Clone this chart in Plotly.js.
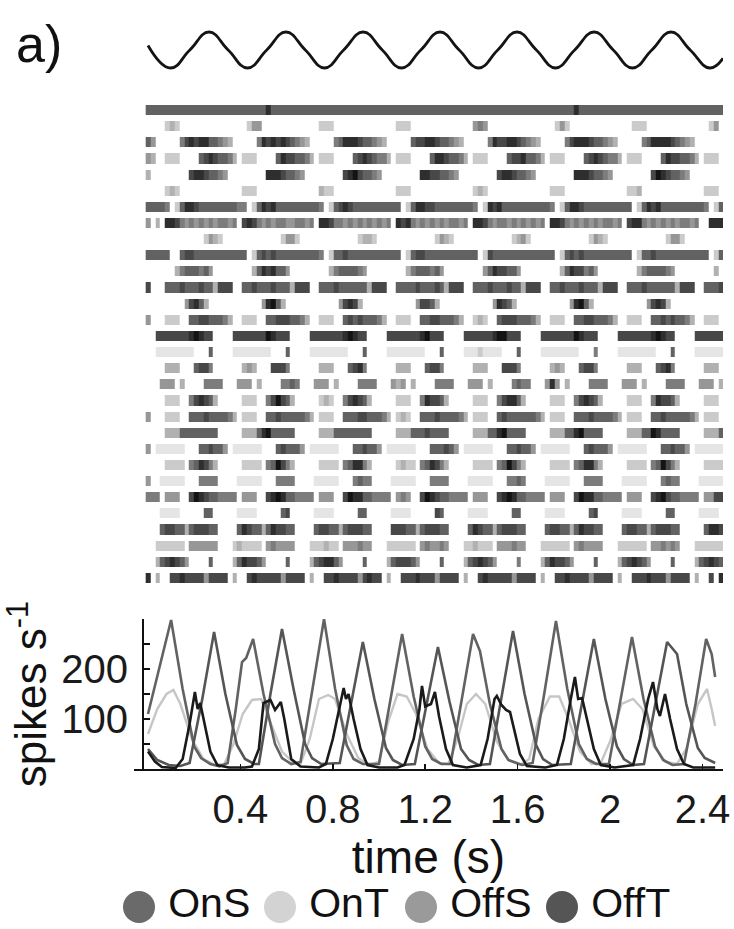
<!DOCTYPE html>
<html>
<head>
<meta charset="utf-8">
<script src="https://cdn.plot.ly/plotly-3.0.1.min.js"></script>
<style>
  html, body { margin: 0; padding: 0; background: #ffffff; }
  #chart { width: 734px; height: 929px; }
</style>
</head>
<body>
<div id="chart"></div>
<script>
// ---------------- DATA ----------------

// Stimulus sine: extrema and zero crossings
const stimT = [0, 0.097, 0.181, 0.264, 0.347, 0.431, 0.514, 0.597, 0.681, 0.764, 0.847, 0.931,
  1.014, 1.097, 1.181, 1.264, 1.347, 1.431, 1.514, 1.597, 1.681, 1.764, 1.847, 1.931,
  2.014, 2.097, 2.181, 2.264, 2.347, 2.431, 2.489];
const stimV = [0.25, -1, 0, 1, 0, -1, 0, 1, 0, -1, 0, 1,
  0, -1, 0, 1, 0, -1, 0, 1, 0, -1, 0, 1,
  0, -1, 0, 1, 0, -1, -0.46];

// Raster: 30 cells, each row = spike-density per time bin (1/48 s), '.' = empty, 1..9 = grey level
const rasterBin = 1 / 48;
const rasterStart = -0.01;
const rasterRows = [
  ["6666666666666666","6666666668666666","6666666666666666","6666666666666666","6666666666666666","6666666668666666","6666666666666666","66666666"],
  ["....232.........",".....244........","....222.........","....222.........","....454.........",".....242........",".....222........",".....24."],
  ["64.....578788665","43.....587878765","43.....568887665","43.....677887665","43.....587788765","43.....578887665","43.....568888765","43......"],
  ["43..222....67876","653.222....68776","653.222....67876","553.222....68876","653.222....67786","653.222....67876","553.222....68776","653.222."],
  ["3........7887665","4........8887665","4........7897665","4........8877665","4........7887665","4........8887665","4........7987665","4......."],
  ["....232.........","....222.........","....322.........","....222.........","....232.........","....222.........","....223.........","....222."],
  ["66665.2688766666","66655.2687866666","66665.2678766666","66666.2688776666","66665.2878666666","66665.2688766666","66666.2687866666","66665.26"],
  ["4.3.887545454545","545.787545455445","545.887554545454","545.878545454545","545.887545545454","545.887545454545","545.788545454545","545..888"],
  ["............2432","............2442","............2332","............2432","............2342","............2432","............2442","........"],
  ["66666..677666666","66666.2676766666","66665.2667666666","66666.2677666666","66666.2766666666","66666.2676766666","66666.2667666666","66666.26"],
  ["......35666564..","......36878664..","......35666654..","......35666564..","......46877664..","......36877564..","......35666654..","......3."],
  ["7...666766676637","77..667666766637","77..666766666637","77..666676667637","77..666766676637","77..667666766637","77..666766666637","77..6667"],
  ["........47863...","........48963...","........47873...","........47763...","........48763...","........48963...","........47873...","........"],
  ["4...222..6677666","53..222..6677766","53..222..6767666","53..222..6677666","53..232..6777666","53..222..6677666","53..222..6676766","53..222."],
  ["..777777789877..","..777777798777..","..777777789877..","..777777789777..","..777777899777..","..777777798777..","..777777789877..","..777777"],
  ["..11111111...6..","..11111111...6..","..11111111...6..","..11111111...6..","..11121111...6..","..11111111...5..","..11111111...6..","..111111"],
  ["....333...6775..","....343...7775..","....333...6785..","....333...6775..","....333...7775..","....343...6775..","....333...6785..","....333."],
  ["...444.3....5555","...444.3....5565","...444.3....5555","...434.3....5555","...444.3....5655","...484.3....5555","...444.3....5555","...444.3"],
  ["....222..578763.","....222..579763.","....232..578763.","....222..587763.","....222..578863.","....222..578763.","....222..587763.","....222."],
  ["4...222..6667666","653.222..6676666","653.222..6667766","653.232..6667666","653.222..6766666","653.222..6667666","653.222..6676666","653.222."],
  ["....33366666666.","....33368966666.","....33366666666.","....33366676666.","....33366896666.","....33366896666.","....33366986666.","....3336"],
  ["4.111111...66766","4.111111...67666","4.111111...66766","4.111111...66676","4.111111...66766","4.111111...67666","4.111111...66766","4.111111"],
  ["....2222.568753.","....2222.569753.","....2222.568853.","....2322.568753.","....2222.569753.","....2222.568853.","....2222.569753.","....2222"],
  ["4..11111...5555.","...11111...5555.","...11111...5655.","...11111...5555.","...11111...5565.","...11111...5555.","...11111...5655.","...11111"],
  ["555.444..7987665","555.444..7898665","555.444..7988665","555.454..7987665","555.444..7898665","555.444..7988665","555.444..7897665","555.4477"],
  ["...1111.....66..","...1111.....67..","...1111.....66..","...1111.....76..","...1111.....66..","...1111.....67..","...1111.....66..","...1111."],
  ["...677663677766.","...687663687766.","...677663677766.","...777663677766.","...687663677766.","...677663687766.","...677663677766.","....6887"],
  ["..222222.444444.","..232222.454444.","..222322.444544.","..222222.454454.","..223222.444544.","..222222.454444.","..222222.445454.","..222222"],
  ["..3678764....6..","..3687764....6..","..3678864....6..","..3677764....6..","..3678764....5..","..3687764....6..","..3678764....6..","..367876"],
  ["8.3..77877774777","7.3..78777774777","7.3..77877774787","7.3..77787774777","7.3..78777774777","7.3..77877774777","7.3..77787774777","7.3..7.8"]
];

// Firing-rate curves (spikes/s), vertices
const onsT = [0, 0.04, 0.09, 0.14, 0.18, 0.235, 0.286, 0.335, 0.385, 0.42, 0.46, 0.48, 0.53, 0.58, 0.63, 0.68, 0.71, 0.75,
  0.83, 0.88, 0.93, 0.98, 1.03, 1.06, 1.10, 1.155, 1.205, 1.255, 1.305, 1.355, 1.39, 1.43, 1.48, 1.53, 1.58, 1.63, 1.68, 1.71, 1.75,
  1.83, 1.88, 1.93, 1.98, 2.03, 2.06, 2.10, 2.147, 2.197, 2.247, 2.29, 2.33, 2.38, 2.41, 2.455];
const onsV = [40, 18, 8, 6, 12, 140, 274, 150, 48, 20, 10, 10, 150, 280, 160, 50, 22, 10,
  12, 130, 254, 140, 42, 18, 8, 10, 125, 244, 135, 40, 18, 8, 10, 145, 276, 150, 48, 20, 8,
  10, 135, 260, 140, 45, 20, 8, 10, 130, 254, 230, 130, 42, 22, 12];

const offsT = [0, 0.05, 0.10, 0.15, 0.20, 0.23, 0.27, 0.31, 0.345, 0.38, 0.407, 0.425, 0.455, 0.50, 0.55, 0.58, 0.62,
  0.66, 0.71, 0.762, 0.81, 0.86, 0.89, 0.93, 1.00, 1.05, 1.10, 1.15, 1.20, 1.23, 1.27,
  1.31, 1.36, 1.407, 1.437, 1.48, 1.53, 1.56, 1.62, 1.665, 1.715, 1.766, 1.815, 1.865, 1.90, 1.94,
  1.995, 2.045, 2.095, 2.145, 2.195, 2.23, 2.27, 2.32, 2.37, 2.416, 2.44, 2.455];
const offsV = [110, 205, 298, 160, 45, 22, 10, 5, 12, 120, 214, 222, 260, 150, 50, 22, 10,
  14, 150, 300, 160, 48, 20, 10, 10, 140, 270, 145, 45, 20, 10,
  10, 140, 270, 236, 130, 40, 18, 8, 12, 150, 296, 160, 50, 20, 10,
  10, 135, 264, 140, 45, 18, 8, 10, 130, 260, 230, 184];

const ontT = [0, 0.04, 0.08, 0.11, 0.14, 0.19, 0.24, 0.29, 0.33, 0.37, 0.41, 0.45, 0.49, 0.53, 0.58, 0.63,
  0.66, 0.70, 0.74, 0.78, 0.81, 0.86, 0.91, 0.96, 1.00, 1.04, 1.08, 1.12, 1.16, 1.21, 1.26,
  1.30, 1.34, 1.38, 1.42, 1.46, 1.51, 1.56, 1.61, 1.65, 1.69, 1.74, 1.78, 1.82, 1.87, 1.92,
  1.96, 2.00, 2.05, 2.10, 2.14, 2.19, 2.24, 2.29, 2.33, 2.38, 2.42, 2.44, 2.455];
const ontV = [70, 120, 150, 158, 130, 60, 20, 8, 10, 50, 110, 138, 140, 95, 35, 12,
  10, 60, 140, 148, 140, 70, 22, 8, 15, 95, 150, 145, 110, 40, 12,
  10, 60, 130, 150, 130, 55, 18, 8, 20, 100, 145, 145, 100, 35, 10,
  12, 55, 130, 140, 120, 45, 14, 10, 40, 130, 160, 120, 86];

const offtT = [0, 0.03, 0.06, 0.12, 0.15, 0.18, 0.203, 0.215, 0.226, 0.245, 0.27, 0.30, 0.35, 0.42,
  0.45, 0.48, 0.50, 0.53, 0.55, 0.575, 0.59, 0.62, 0.66, 0.74,
  0.77, 0.80, 0.83, 0.847, 0.857, 0.868, 0.89, 0.92, 0.95, 1.00, 1.08,
  1.11, 1.15, 1.175, 1.186, 1.20, 1.225, 1.242, 1.26, 1.29, 1.32, 1.38,
  1.44, 1.47, 1.50, 1.51, 1.53, 1.55, 1.567, 1.585, 1.61, 1.64, 1.72,
  1.77, 1.80, 1.83, 1.848, 1.862, 1.879, 1.90, 1.93, 1.96, 2.02,
  2.10, 2.13, 2.165, 2.186, 2.205, 2.216, 2.238, 2.26, 2.29, 2.32, 2.36, 2.455];
const offtV = [35, 15, 4, 2, 20, 90, 154, 120, 132, 90, 35, 8, 3, 3,
  5, 40, 132, 138, 118, 134, 100, 20, 5, 3,
  10, 60, 130, 162, 140, 150, 100, 40, 8, 3, 3,
  8, 60, 120, 166, 125, 130, 154, 105, 40, 8, 3,
  8, 60, 140, 146, 128, 118, 114, 80, 30, 6, 3,
  8, 60, 140, 184, 140, 142, 100, 40, 8, 3,
  8, 60, 140, 174, 120, 106, 150, 100, 40, 10, 3, 3];

const seriesNames = ['OnS', 'OnT', 'OffS', 'OffT'];
const xTickVals = [0.4, 0.8, 1.2, 1.6, 2, 2.4];
const xTickText = ['0.4', '0.8', '1.2', '1.6', '2', '2.4'];
const yTickVals = [100, 200];
const yTickText = ['100', '200'];
const yMinorTickVals = [50, 150, 250];

// ---------------- STYLE ----------------
const FONT = 'Liberation Sans, Arial, Helvetica, sans-serif';
const lineColors = { OnS: '#555555', OnT: '#c6c6c6', OffS: '#626262', OffT: '#1a1a1a' };
const legendColors = { OnS: '#6a6a6a', OnT: '#d3d3d3', OffS: '#9a9a9a', OffT: '#555555' };

const W = 734, H = 929;
const px = v => v / W;
const py = v => 1 - v / H;
const xDom = [px(134), px(723)];
const xRange = [-0.0606, 2.489];

// ---------------- TRACES ----------------
const rasterZ = rasterRows.map(r => r.join('').split('').map(c => (c === '.' ? 0 : Number(c))));

const seriesData = {
  OnS: [onsT, onsV], OnT: [ontT, ontV], OffS: [offsT, offsV], OffT: [offtT, offtV]
};
const drawOrder = ['OnT', 'OffS', 'OnS', 'OffT'];

const traces = [];
traces.push({
  type: 'scatter', mode: 'lines', x: stimT, y: stimV, xaxis: 'x', yaxis: 'y',
  line: { color: '#141414', width: 2.8, shape: 'spline', smoothing: 1.3 },
  hoverinfo: 'skip', showlegend: false
});
traces.push({
  type: 'heatmap', xaxis: 'x2', yaxis: 'y2', z: rasterZ,
  x0: rasterStart + rasterBin / 2, dx: rasterBin, y0: 0, dy: 1,
  colorscale: [[0, '#ffffff'], [1, '#141414']], zmin: 0, zmax: 9,
  showscale: false, ygap: 6, xgap: 0, hoverinfo: 'skip'
});
drawOrder.forEach(name => {
  traces.push({
    type: 'scatter', mode: 'lines', name: name,
    x: seriesData[name][0], y: seriesData[name][1], xaxis: 'x3', yaxis: 'y3',
    line: { color: lineColors[name], width: name === 'OnT' ? 2.4 : 2.6 },
    hoverinfo: 'skip', showlegend: false
  });
});
// legend row drawn as a marker+text trace (large round swatches like the figure)
traces.push({
  type: 'scatter', mode: 'markers+text', xaxis: 'x4', yaxis: 'y4',
  x: seriesNames.map((n, i) => i), y: seriesNames.map(() => 0),
  text: seriesNames.map(n => '\u2009' + n), textposition: 'middle right',
  textfont: { family: FONT, size: 41, color: '#111111' },
  marker: { size: 32, color: seriesNames.map(n => legendColors[n]), line: { width: 0 } },
  cliponaxis: false, hoverinfo: 'skip', showlegend: false
});

// ---------------- LAYOUT ----------------
const layout = {
  width: W, height: H,
  margin: { l: 0, r: 0, t: 0, b: 0, pad: 0 },
  paper_bgcolor: '#ffffff', plot_bgcolor: 'rgba(0,0,0,0)',
  showlegend: false,
  font: { family: FONT, color: '#111111' },
  xaxis: { domain: xDom, range: xRange, visible: false, anchor: 'y', fixedrange: true },
  yaxis: { domain: [py(70.7), py(29.3)], range: [-1.15, 1.15], visible: false, anchor: 'x', fixedrange: true },
  xaxis2: { domain: xDom, range: xRange, visible: false, anchor: 'y2', fixedrange: true },
  yaxis2: { domain: [py(586), py(102)], range: [29.5, -0.5], visible: false, anchor: 'x2', fixedrange: true },
  xaxis3: {
    domain: xDom, range: xRange, anchor: 'y3',
    showline: true, linecolor: '#111111', linewidth: 2,
    ticks: 'inside', ticklen: 5, tickwidth: 1.5, tickcolor: '#111111',
    tickmode: 'array', tickvals: xTickVals, ticktext: xTickText,
    tickfont: { size: 40, color: '#1a1a1a' }, ticklabelstandoff: 4,
    showgrid: false, zeroline: false,
    title: { text: 'time (s)', font: { size: 46, color: '#111111' }, standoff: 4 }
  },
  yaxis3: {
    domain: [py(769), py(619)], range: [0, 300], anchor: 'free', position: px(143),
    showline: true, linecolor: '#111111', linewidth: 2,
    ticks: 'inside', ticklen: 6, tickwidth: 1.5, tickcolor: '#111111',
    tickmode: 'array', tickvals: yTickVals, ticktext: yTickText,
    minor: { tickmode: 'array', tickvals: yMinorTickVals, ticks: 'inside', ticklen: 6, tickwidth: 1.5, tickcolor: '#111111', showgrid: false },
    tickfont: { size: 40, color: '#1a1a1a' }, ticklabelstandoff: 6,
    showgrid: false, zeroline: false,
    title: { text: 'spikes s<sup>-1</sup>', font: { size: 44, color: '#111111' }, standoff: 4 }
  },
  xaxis4: { domain: [px(139), px(562)], range: [0, 3], visible: false, anchor: 'y4', fixedrange: true },
  yaxis4: { domain: [py(917), py(897)], range: [-1, 1], visible: false, anchor: 'x4', fixedrange: true },
  annotations: [{
    text: 'a)', xref: 'paper', yref: 'paper', x: px(14), y: py(44),
    xanchor: 'left', yanchor: 'middle', showarrow: false,
    font: { family: FONT, size: 52, color: '#111111' }
  }]
};

Plotly.newPlot('chart', traces, layout, { staticPlot: true, displayModeBar: false });
</script>
</body>
</html>
